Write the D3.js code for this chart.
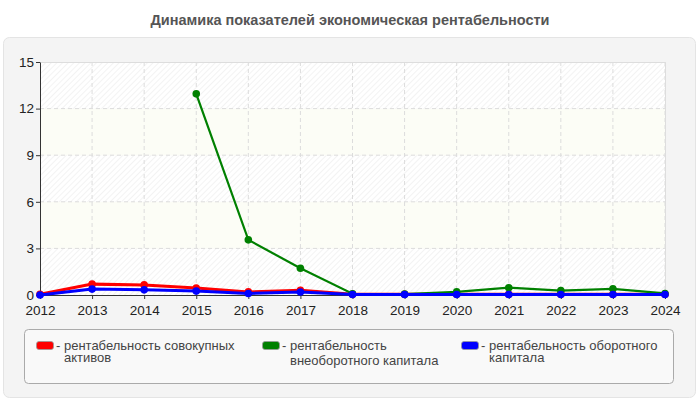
<!DOCTYPE html>
<html>
<head>
<meta charset="utf-8">
<script src="https://cdn.jsdelivr.net/npm/d3@7"></script>
<style>
  body { margin: 0; background: #fff; }
  svg { display: block; font-family: "Liberation Sans", Arial, sans-serif; }
</style>
</head>
<body>
<svg id="chart" width="700" height="400"></svg>
<script>
const years = [2012, 2013, 2014, 2015, 2016, 2017, 2018, 2019, 2020, 2021, 2022, 2023, 2024];
const assets = [0.05, 0.7, 0.65, 0.45, 0.2, 0.3, 0.05, 0.05, 0.05, 0.05, 0.05, 0.05, 0.05];
const nonCurrent = [null, null, null, 12.95, 3.55, 1.72, 0.08, 0.06, 0.2, 0.47, 0.28, 0.4, 0.1];
const current = [0.0, 0.38, 0.33, 0.25, 0.1, 0.19, 0.03, 0.03, 0.03, 0.03, 0.03, 0.03, 0.03];
const yTicks = [0, 3, 6, 9, 12, 15];
const seriesNames = [
  ['рентабельность совокупных', 'активов'],
  ['рентабельность', 'внеоборотного капитала'],
  ['рентабельность оборотного', 'капитала']
];
const seriesColors = ['#ff0000', '#008000', '#0000ff'];

const svg = d3.select('#chart');
const margin = { top: 62, right: 35, bottom: 105, left: 40 };
const width = 700, height = 400;
const innerWidth = width - margin.left - margin.right;
const innerHeight = height - margin.top - margin.bottom;

// title
svg.append('text')
  .attr('x', 350).attr('y', 25)
  .attr('text-anchor', 'middle')
  .attr('font-size', 14.5).attr('font-weight', 'bold')
  .attr('fill', '#555')
  .text('Динамика показателей экономическая рентабельности');

// panel
svg.append('rect')
  .attr('x', 3.5).attr('y', 37.5).attr('width', 692).attr('height', 360)
  .attr('rx', 6)
  .attr('fill', '#f4f4f4').attr('stroke', '#e4e4e4');

const defs = svg.append('defs');
const pat = defs.append('pattern')
  .attr('id', 'hatch').attr('patternUnits', 'userSpaceOnUse')
  .attr('width', 4).attr('height', 4)
  .attr('patternTransform', 'rotate(45)');
pat.append('rect').attr('width', 4).attr('height', 4).attr('fill', '#fff');
pat.append('line').attr('x1', 0).attr('y1', 0).attr('x2', 0).attr('y2', 4)
  .attr('stroke', '#ececec').attr('stroke-width', 1.2);

const x = d3.scalePoint().domain(years).range([0, innerWidth]);
const y = d3.scaleLinear().domain([0, 15]).range([innerHeight, 0]);

const chart = svg.append('g')
  .attr('transform', `translate(${margin.left},${margin.top})`);

// background bands
chart.selectAll('.band')
  .data(d3.pairs(yTicks))
  .enter()
  .append('rect')
  .attr('x', 0)
  .attr('y', d => y(d[1]))
  .attr('width', innerWidth)
  .attr('height', d => y(d[0]) - y(d[1]))
  .attr('fill', (d, i) => (i % 2 === 0 ? 'url(#hatch)' : '#fcfdf6'));

// grid
chart.append('g')
  .selectAll('line')
  .data(years.slice(1))
  .enter()
  .append('line')
  .attr('x1', d => x(d)).attr('x2', d => x(d))
  .attr('y1', 0).attr('y2', innerHeight)
  .attr('stroke', '#dcdcdc').attr('stroke-dasharray', '4,3');

chart.append('g')
  .selectAll('line')
  .data(yTicks.slice(1, -1))
  .enter()
  .append('line')
  .attr('x1', 0).attr('x2', innerWidth)
  .attr('y1', d => y(d)).attr('y2', d => y(d))
  .attr('stroke', '#dcdcdc').attr('stroke-dasharray', '4,3');

// top and right border
chart.append('path')
  .attr('d', `M0,${y(15) + 0.5}H${innerWidth + 0.5}V${innerHeight}`)
  .attr('fill', 'none').attr('stroke', '#dddddd');

// Y-axis
const yAxis = chart.append('g')
  .call(d3.axisLeft(y).tickValues(yTicks).tickSize(4).tickSizeOuter(0));
yAxis.select('.domain').attr('stroke', '#333');
yAxis.selectAll('line').attr('stroke', '#333');
yAxis.selectAll('text').attr('font-size', 13.5).attr('fill', '#222')
  .attr('x', -6)
  .attr('font-family', '"Liberation Sans", Arial, sans-serif');

// X-axis
const xAxis = chart.append('g')
  .attr('transform', `translate(0,${innerHeight})`)
  .call(d3.axisBottom(x).tickSize(4).tickSizeOuter(0));
xAxis.select('.domain').attr('stroke', '#333');
xAxis.selectAll('line').attr('stroke', '#333');
xAxis.selectAll('text').attr('font-size', 13.5).attr('fill', '#222')
  .attr('y', 4).attr('dy', '1.15em')
  .attr('font-family', '"Liberation Sans", Arial, sans-serif');

// lines
const series = [
  { values: assets, color: seriesColors[0], w: 3 },
  { values: nonCurrent, color: seriesColors[1], w: 2.2 },
  { values: current, color: seriesColors[2], w: 3 }
];
const line = d3.line()
  .defined(d => d.v !== null)
  .x(d => x(d.year))
  .y(d => y(d.v));

series.forEach(s => {
  const pts = years.map((yr, i) => ({ year: yr, v: s.values[i] }));
  chart.append('path')
    .datum(pts)
    .attr('fill', 'none')
    .attr('stroke', s.color)
    .attr('stroke-width', s.w)
    .attr('d', line);
  chart.selectAll(null)
    .data(pts.filter(d => d.v !== null))
    .enter()
    .append('circle')
    .attr('cx', d => x(d.year))
    .attr('cy', d => y(d.v))
    .attr('r', 3.8)
    .attr('fill', s.color);
});

// legend
svg.append('rect')
  .attr('x', 24.5).attr('y', 329.5).attr('width', 649).attr('height', 54)
  .attr('rx', 4)
  .attr('fill', '#f9f9f9').attr('stroke', '#aaaaaa');

const legendX = [36, 262, 461];
const legendLine2 = [362, 365, 362];
const legend = svg.append('g');
seriesNames.forEach((name, i) => {
  const g = legend.append('g');
  g.append('rect')
    .attr('x', legendX[i] + 0.5).attr('y', 341.5)
    .attr('width', 17).attr('height', 8).attr('rx', 2.5)
    .attr('fill', seriesColors[i]).attr('stroke', '#999').attr('stroke-width', 0.8);
  const t = g.append('text')
    .attr('font-size', 13).attr('fill', '#444');
  t.append('tspan')
    .attr('x', legendX[i] + 20).attr('y', 349.5)
    .text('- ' + name[0]);
  t.append('tspan')
    .attr('x', legendX[i] + 28).attr('y', legendLine2[i])
    .text(name[1]);
});
</script>
</body>
</html>
